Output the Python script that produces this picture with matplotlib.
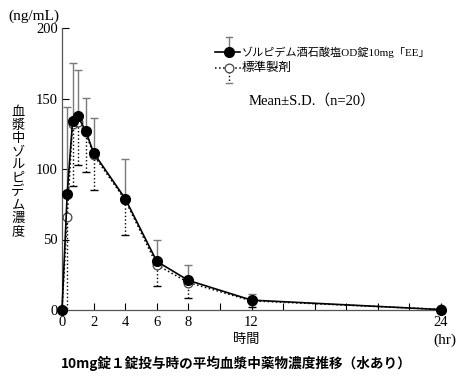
import numpy as np
import matplotlib.pyplot as plt
from matplotlib.lines import Line2D

# Fontes: números em serifa, japonês com fallback CJK
fam = ['Liberation Serif', 'Noto Sans CJK JP']
plt.rcParams['font.family'] = fam

# Dados
tempo = [0, 0.33, 0.67, 1, 1.5, 2, 4, 6, 8, 12, 24]
teste_media = [0, 82.6, 134, 137.5, 127, 111.5, 79, 34.5, 21, 7, 0.3]
teste_dp = [0, 61.4, 41, 32.5, 23.6, 25, 28, 15.5, 11, 4.5, 0.5]
ref_media = [0, 66, 132, 133, 126, 110, 78, 32, 19.5, 6.5, 0.4]
ref_dp = [0, 70, 44, 30, 28.4, 25, 25, 15, 10.8, 4.6, 0.5]

xticks = [0, 2, 4, 6, 8, 10, 12, 14, 16, 18, 20, 22, 24]
xlabels = ['0', '2', '4', '6', '8', '', '12', '', '', '', '', '', '24']
yticks = [0, 50, 100, 150, 200]

W, H = 463, 378
fig = plt.figure(figsize=(W / 100, H / 100), dpi=100)
ax = fig.add_axes([62 / W, 1 - 310 / H, 379 / W, 282 / H])

cinza = '#7a7a7a'

# Barras de erro: teste só para cima, referência só para baixo
zeros = np.zeros(len(tempo))
eb1 = ax.errorbar(tempo, teste_media, yerr=[zeros, teste_dp], fmt='none',
                  ecolor=cinza, elinewidth=1.0, capsize=3, capthick=1.0)
eb2 = ax.errorbar(tempo, ref_media, yerr=[ref_dp, zeros], fmt='none',
                  ecolor='black', elinewidth=1.0, capsize=3, capthick=1.0)
eb2[2][0].set_linestyle(':')
for c in eb2[1]:
    c.set_color(cinza)

# Curvas
ax.plot(tempo, ref_media, linestyle=':', color='black', lw=1.1, marker='o',
        markersize=6.3, markerfacecolor='white', markeredgecolor='#444444',
        markeredgewidth=0.9, clip_on=False, zorder=3)
ax.plot(tempo, teste_media, linestyle='-', color='black', lw=1.2, marker='o',
        markersize=7, markerfacecolor='black', markeredgecolor='black',
        clip_on=False, zorder=4)

ax.set_xlim(0, 24)
ax.set_ylim(0, 200)
ax.set_xticks(xticks)
ax.set_xticklabels(xlabels)
ax.set_yticks(yticks)
ax.tick_params(direction='in', length=5, width=0.8, labelsize=10.5, colors='black')
ax.tick_params(axis='x', pad=4)
ax.tick_params(axis='y', pad=3)
for s in ['top', 'right']:
    ax.spines[s].set_visible(False)
for s in ['left', 'bottom']:
    ax.spines[s].set_linewidth(0.9)
    ax.spines[s].set_color('#555555')

# Textos dos eixos
def px(x, y):
    return x / W, 1 - y / H

fig.text(*px(8, 16), '(ng/mL)', ha='left', va='center', fontsize=11, family=fam)
fig.text(*px(18, 172), '\n'.join('血漿中ゾルピデム濃度'), ha='center', va='center',
         fontsize=9.5, linespacing=1.03, family=['Noto Sans CJK JP'])
fig.text(*px(246, 339), '時間', ha='center', va='center', fontsize=9.5,
         family=['Noto Sans CJK JP'])
fig.text(*px(445, 340), '(hr)', ha='center', va='center', fontsize=11, family=fam)
fig.text(*px(236, 363), '10mg錠１錠投与時の平均血漿中薬物濃度推移（水あり）',
         ha='center', va='center', fontsize=9.8, fontweight='bold',
         family=['Noto Sans CJK JP'])

# Legenda manual
fig.add_artist(Line2D([215 / W, 240 / W], [1 - 52 / H] * 2, color='black', lw=1.2,
                      transform=fig.transFigure))
fig.add_artist(Line2D([229 / W, 229 / W], [1 - 52 / H, 1 - 37 / H], color=cinza, lw=1.0,
                      transform=fig.transFigure))
fig.add_artist(Line2D([226 / W, 232 / W], [1 - 37 / H] * 2, color=cinza, lw=1.0,
                      transform=fig.transFigure))
fig.add_artist(Line2D([229 / W], [1 - 52 / H], marker='o', markersize=7, color='black',
                      transform=fig.transFigure))
fig.add_artist(Line2D([215 / W, 244 / W], [1 - 68 / H] * 2, color='black', lw=1.1,
                      linestyle=':', transform=fig.transFigure))
fig.add_artist(Line2D([229 / W, 229 / W], [1 - 68 / H, 1 - 83 / H], color='black', lw=1.0,
                      linestyle=':', transform=fig.transFigure))
fig.add_artist(Line2D([226 / W, 232 / W], [1 - 83 / H] * 2, color=cinza, lw=1.0,
                      transform=fig.transFigure))
fig.add_artist(Line2D([229 / W], [1 - 68 / H], marker='o', markersize=6.3,
                      markerfacecolor='white', markeredgecolor='#444444',
                      markeredgewidth=0.9, transform=fig.transFigure))
fig.text(*px(242, 52), 'ゾルピデム酒石酸塩OD錠10mg「EE」', ha='left', va='center',
         fontsize=8, family=fam)
fig.text(*px(242, 68), '標準製剤', ha='left', va='center', fontsize=9, family=fam)
fig.text(*px(249, 101), 'Mean±S.D.（n=20）', ha='left', va='center', fontsize=10.5,
         family=fam)

fig.savefig('out.png', dpi=100)
